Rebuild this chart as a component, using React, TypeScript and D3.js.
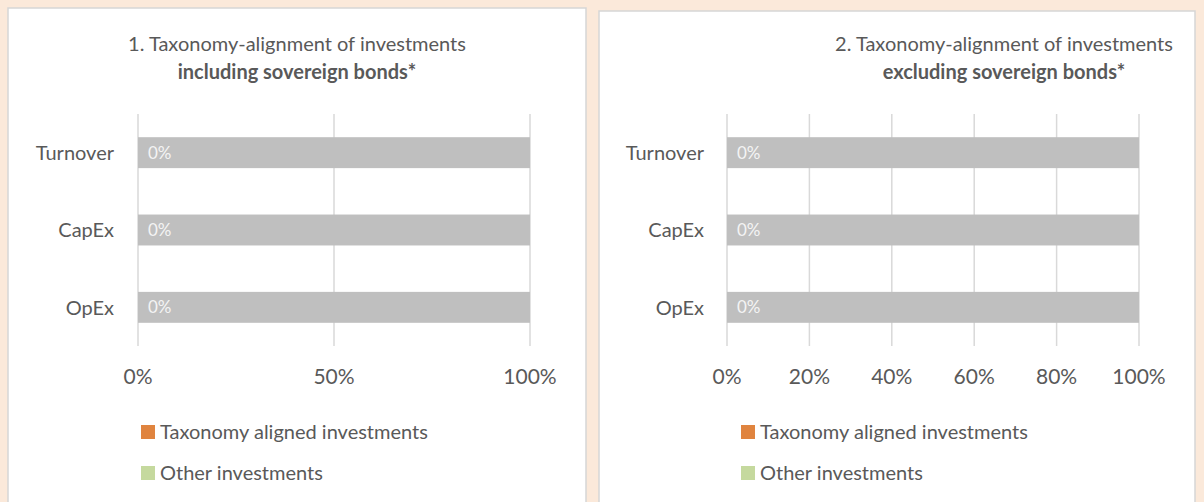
import React, { useEffect, useRef } from "react";
import * as d3 from "d3";

// values
const categories = ["Turnover", "CapEx", "OpEx"];
const alignedIncl = [0, 0, 0];
const otherIncl = [100, 100, 100];
const alignedExcl = [0, 0, 0];
const otherExcl = [100, 100, 100];
const ticksIncl = [0, 50, 100];
const ticksExcl = [0, 20, 40, 60, 80, 100];
const legendLabels = ["Taxonomy aligned investments", "Other investments"];
const legendColors = ["#e0843f", "#c5d99e"];

const FONT = "Lato, 'Liberation Sans', sans-serif";
const TEXT = "#595959";

function drawPanel(svg: any, p: any) {
  let g = svg.append("g");

  g.append("rect")
    .attr("x", p.box[0]).attr("y", p.box[1])
    .attr("width", p.box[2]).attr("height", p.box[3])
    .attr("fill", "#ffffff")
    .attr("stroke", "#d6d6d6")
    .attr("stroke-width", 1.5);

  // title, two lines
  g.append("text")
    .attr("x", p.titleX).attr("y", 51)
    .attr("text-anchor", "middle")
    .attr("font-size", 20).attr("fill", TEXT)
    .text(p.title1);
  g.append("text")
    .attr("x", p.titleX).attr("y", 79)
    .attr("text-anchor", "middle")
    .attr("font-size", 20).attr("font-weight", "bold").attr("fill", TEXT)
    .text(p.title2);

  let x = d3.scaleLinear().domain([0, 100]).range([p.x0, p.x1]);
  let y = d3.scaleBand().domain(categories).range([114, 346]).paddingInner(0.6).paddingOuter(0.3);

  g.selectAll("line.grid").data(p.ticks).enter().append("line")
    .attr("x1", (d: number) => x(d)).attr("x2", (d: number) => x(d))
    .attr("y1", 114).attr("y2", 346)
    .attr("stroke", "#d9d9d9").attr("stroke-width", 1.5);

  // stacked bars: aligned then other
  g.selectAll("rect.aligned").data(categories).enter().append("rect")
    .attr("x", x(0))
    .attr("y", (d: string) => y(d))
    .attr("width", (d: string, i: number) => x(p.aligned[i]) - x(0))
    .attr("height", y.bandwidth())
    .attr("fill", legendColors[0]);

  g.selectAll("rect.other").data(categories).enter().append("rect")
    .attr("x", (d: string, i: number) => x(p.aligned[i]))
    .attr("y", (d: string) => y(d))
    .attr("width", (d: string, i: number) => x(p.aligned[i] + p.other[i]) - x(p.aligned[i]))
    .attr("height", y.bandwidth())
    .attr("fill", "#bfbfbf");

  g.selectAll("text.val").data(categories).enter().append("text")
    .attr("x", x(0) + 10)
    .attr("y", (d: string) => (y(d) as number) + y.bandwidth() / 2)
    .attr("dy", "0.36em")
    .attr("font-size", 17).attr("fill", "#f4f4f4")
    .text((d: string, i: number) => p.aligned[i] + "%");

  g.selectAll("text.cat").data(categories).enter().append("text")
    .attr("x", p.labelX)
    .attr("y", (d: string) => (y(d) as number) + y.bandwidth() / 2)
    .attr("dy", "0.36em")
    .attr("text-anchor", "end")
    .attr("font-size", 20).attr("fill", TEXT)
    .text((d: string) => d);

  g.selectAll("text.tick").data(p.ticks).enter().append("text")
    .attr("x", (d: number) => x(d))
    .attr("y", 384)
    .attr("text-anchor", "middle")
    .attr("font-size", 21).attr("fill", TEXT)
    .text((d: number) => d + "%");

  // legend
  legendLabels.forEach((lab, i) => {
    let cy = 432 + i * 41;
    g.append("rect")
      .attr("x", p.legendX).attr("y", cy - 7)
      .attr("width", 14).attr("height", 14)
      .attr("fill", legendColors[i]);
    g.append("text")
      .attr("x", p.legendX + 19).attr("y", cy)
      .attr("dy", "0.36em")
      .attr("font-size", 20).attr("fill", TEXT)
      .text(lab);
  });
}

export default function App() {
  const ref = useRef<SVGSVGElement>(null);

  useEffect(() => {
    let svg = d3.select(ref.current);
    svg.selectAll("*").remove();
    svg.attr("font-family", FONT);

    svg.append("rect").attr("width", 1204).attr("height", 502).attr("fill", "#fbe9da");

    drawPanel(svg, {
      box: [8, 8, 578, 510],
      title1: "1. Taxonomy-alignment of investments",
      title2: "including sovereign bonds*",
      titleX: 297,
      x0: 138, x1: 530,
      labelX: 114,
      ticks: ticksIncl,
      aligned: alignedIncl,
      other: otherIncl,
      legendX: 141,
    });

    drawPanel(svg, {
      box: [599, 11, 596, 510],
      title1: "2. Taxonomy-alignment of investments",
      title2: "excluding sovereign bonds*",
      titleX: 1004,
      x0: 727, x1: 1139,
      labelX: 704,
      ticks: ticksExcl,
      aligned: alignedExcl,
      other: otherExcl,
      legendX: 741,
    });
  }, []);

  return (
    <svg ref={ref} width={1204} height={502}
      style={{ position: "absolute", left: 0, top: 0, display: "block" }} />
  );
}
